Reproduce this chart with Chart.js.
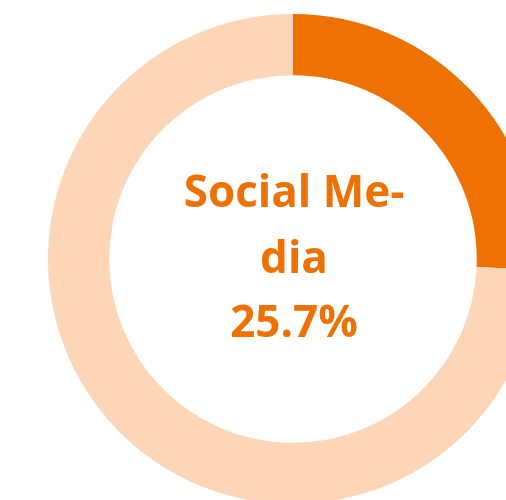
<!DOCTYPE html>
<html>
<head>
<meta charset="utf-8">
<script src="https://cdn.jsdelivr.net/npm/chart.js@4"></script>
<style>
html,body{margin:0;padding:0;overflow:hidden;background:#fff;width:506px;height:500px;}
#c{position:absolute;left:0;top:0;}
</style>
</head>
<body>
<canvas id="c" width="586" height="518"></canvas>
<script>
const categories = ['Social Media', 'Other'];
const values = [25.7, 74.3];
const centerLines = ['Social Me-', 'dia', '25.7%'];

const centerText = {
  id: 'centerText',
  afterDraw(chart) {
    const meta = chart.getDatasetMeta(0);
    const arc = meta.data[0];
    const cx = arc.x, cy = arc.y;
    const ctx = chart.ctx;
    ctx.save();
    ctx.fillStyle = '#EE7203';
    ctx.font = 'bold 44px "Open Sans"';
    ctx.textAlign = 'center';
    ctx.textBaseline = 'alphabetic';
    const offs = [-52, 14, 78];
    centerLines.forEach((t, i) => ctx.fillText(t, cx + 1, cy + offs[i]));
    ctx.restore();
  }
};

new Chart(document.getElementById('c'), {
  type: 'doughnut',
  data: {
    labels: categories,
    datasets: [{
      data: values,
      backgroundColor: ['#EE7203', '#FCD6B6'],
      borderWidth: 0
    }]
  },
  options: {
    responsive: false,
    animation: false,
    cutout: '75%',
    layout: { padding: { left: 48, right: 48, top: 14, bottom: 14 } },
    plugins: { legend: { display: false }, tooltip: { enabled: false } }
  },
  plugins: [centerText]
});
</script>
</body>
</html>
